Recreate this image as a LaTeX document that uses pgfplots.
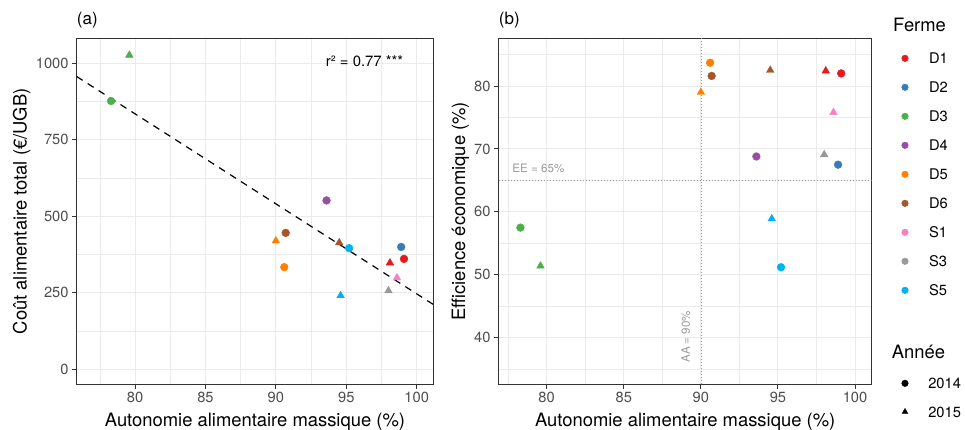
\documentclass[border=0pt]{standalone}
\usepackage{fontspec}
\setmainfont{TeX Gyre Heros}
\usepackage{pgfplots}
\usepackage{pgfplotstable}
\pgfplotsset{compat=1.18}

\definecolor{cD1}{HTML}{E41A1C}
\definecolor{cD2}{HTML}{377EB8}
\definecolor{cD3}{HTML}{4DAF4A}
\definecolor{cD4}{HTML}{984EA3}
\definecolor{cD5}{HTML}{FF7F00}
\definecolor{cD6}{HTML}{A65628}
\definecolor{cS1}{HTML}{F781BF}
\definecolor{cS3}{HTML}{999999}
\definecolor{cS5}{HTML}{00B2EE}
\definecolor{gg20}{HTML}{333333}
\definecolor{gg30}{HTML}{4D4D4D}
\definecolor{gg92}{HTML}{EBEBEB}
\definecolor{refgray}{HTML}{9A9A9A}

% a = 2014, b = 2015
\pgfplotstableread{
cls  aa    cost  ee
D1a  99.1  361   82.0
D1b  98.1  348   82.4
D2a  98.9  400   67.5
D3a  78.3  877   57.5
D3b  79.6  1027  51.4
D4a  93.6  552   68.8
D5a  90.6  334   83.7
D5b  90.0  420   79.0
D6a  90.7  446   81.6
D6b  94.5  414   82.5
S1b  98.6  299   75.8
S3b  98.0  257   69.1
S5a  95.2  396   51.2
S5b  94.6  241   58.9
}\farms

\newcommand\ticksize{\fontsize{14.7}{17}\selectfont}
\newcommand\labsize{\fontsize{18.4}{21}\selectfont}

\pgfplotsset{
  ggbw/.style={
    scale only axis, height=346pt,
    axis line style={draw=gg20, line width=1.1pt},
    tick align=outside, tick pos=left,
    major tick length=4.6pt, minor tick length=0pt,
    tick style={draw=gg20, line width=1pt},
    grid=both,
    major grid style={draw=gg92, line width=1pt},
    minor grid style={draw=gg92, line width=0.5pt},
    tick label style={font=\ticksize, text=gg30},
    label style={font=\labsize},
    /pgf/number format/assume math mode=true,
    /pgf/number format/1000 sep={},
    xtick={80,85,...,100}, minor xtick={77.5,82.5,...,97.5},
  },
  farmmarks/.style={
    only marks, scatter, point meta=explicit symbolic, mark size=3.9pt,
    scatter/classes={
      D1a={mark=*,cD1}, D1b={mark=triangle*,cD1,mark size=4.4pt},
      D2a={mark=*,cD2},
      D3a={mark=*,cD3}, D3b={mark=triangle*,cD3,mark size=4.4pt},
      D4a={mark=*,cD4},
      D5a={mark=*,cD5}, D5b={mark=triangle*,cD5,mark size=4.4pt},
      D6a={mark=*,cD6}, D6b={mark=triangle*,cD6,mark size=4.4pt},
      S1b={mark=triangle*,cS1,mark size=4.4pt},
      S3b={mark=triangle*,cS3,mark size=4.4pt},
      S5a={mark=*,cS5}, S5b={mark=triangle*,cS5,mark size=4.4pt}
    },
  },
  keyleg/.style={
    legend cell align=left,
    legend image code/.code={\draw[mark size=3.3pt,##1] plot coordinates {(0pt,0pt)};},
  },
}

\begin{document}
\begin{tikzpicture}
\useasboundingbox (0,0) rectangle (965pt,429pt);

% panel (a)
\begin{axis}[ggbw, at={(76.7pt,44.7pt)}, anchor=south west, width=356.6pt,
  xmin=75.86, xmax=101.18, ymin=-49, ymax=1082,
  ytick={0,250,...,1000}, minor ytick={125,375,625,875},
  xlabel={Autonomie alimentaire massique (\%)},
  ylabel={Coût alimentaire total (€/UGB)},
  xlabel style={at={(axis description cs:0.5,-0.1228)}, anchor=base},
  ylabel style={at={(axis description cs:-0.1402,0.5)}, anchor=base},
]
\addplot[black, line width=1.2pt, dash pattern=on 7pt off 6pt] coordinates {(75.86,957) (101.18,212)};
\addplot[farmmarks] table[x=aa, y=cost, meta=cls] {\farms};
\node[font=\fontsize{14.9}{17}\selectfont] at (axis cs:96.3,1007) {r² = 0.77 ***};
\end{axis}

% panel (b)
\begin{axis}[ggbw, keyleg, at={(498.7pt,44.7pt)}, anchor=south west, width=373pt,
  xmin=76.89, xmax=101.08, ymin=32.6, ymax=87.58,
  ytick={40,50,...,80}, minor ytick={35,45,...,85},
  xlabel={Autonomie alimentaire massique (\%)},
  ylabel={Efficience économique (\%)},
  xlabel style={at={(axis description cs:0.5,-0.1228)}, anchor=base},
  ylabel style={at={(axis description cs:-0.0903,0.5)}, anchor=base},
  legend style={at={(axis description cs:1.0804,0.9575)}, anchor=north west,
    draw=none, fill=none, inner sep=0pt, outer sep=0pt,
    row sep=18.4pt, column sep=20.7pt, font=\ticksize,
    nodes={inner sep=0pt, text height=10.6pt, text depth=0pt}},
]
\addplot[refgray, line width=0.7pt, dash pattern=on 1pt off 2pt, forget plot] coordinates {(90,32.6) (90,87.58)};
\addplot[refgray, line width=0.7pt, dash pattern=on 1pt off 2pt, forget plot] coordinates {(76.89,65) (101.08,65)};
\addplot[farmmarks, forget plot] table[x=aa, y=ee, meta=cls] {\farms};
\node[font=\fontsize{11.6}{13}\selectfont, text=refgray, anchor=west, inner sep=0pt] at (axis cs:77.77,66.96) {EE = 65\%};
\node[font=\fontsize{11.6}{13}\selectfont, text=refgray, rotate=90, anchor=west, inner sep=0pt] at (axis cs:89.02,36.0) {AA = 90\%};
\addlegendimage{only marks, mark=*, cD1}\addlegendentry{D1}
\addlegendimage{only marks, mark=*, cD2}\addlegendentry{D2}
\addlegendimage{only marks, mark=*, cD3}\addlegendentry{D3}
\addlegendimage{only marks, mark=*, cD4}\addlegendentry{D4}
\addlegendimage{only marks, mark=*, cD5}\addlegendentry{D5}
\addlegendimage{only marks, mark=*, cD6}\addlegendentry{D6}
\addlegendimage{only marks, mark=*, cS1}\addlegendentry{S1}
\addlegendimage{only marks, mark=*, cS3}\addlegendentry{S3}
\addlegendimage{only marks, mark=*, cS5}\addlegendentry{S5}
\end{axis}

% second legend (year)
\begin{axis}[keyleg, scale only axis, hide axis, at={(498.7pt,44.7pt)}, anchor=south west,
  width=373pt, height=346pt, xmin=0, xmax=1, ymin=0, ymax=1,
  legend style={at={(axis description cs:1.0804,0.0182)}, anchor=north west,
    draw=none, fill=none, inner sep=0pt, outer sep=0pt,
    row sep=17.8pt, column sep=20pt, font=\ticksize,
    nodes={inner sep=0pt, text height=10.6pt, text depth=0pt}},
]
\addplot[draw=none, forget plot] coordinates {(0,0)};
\addlegendimage{only marks, mark=*, black}\addlegendentry{2014}
\addlegendimage{only marks, mark=triangle*, black, mark size=4.3pt}\addlegendentry{2015}
\end{axis}

\node[anchor=base west, inner sep=0pt, font=\fontsize{17}{20}\selectfont] at (76.7pt,404pt) {(a)};
\node[anchor=base west, inner sep=0pt, font=\fontsize{17}{20}\selectfont] at (498.7pt,404pt) {(b)};
\node[anchor=base west, inner sep=0pt, font=\labsize] at (893pt,397pt) {Ferme};
\node[anchor=base west, inner sep=0pt, font=\labsize] at (891.7pt,71pt) {Année};
\end{tikzpicture}
\end{document}
